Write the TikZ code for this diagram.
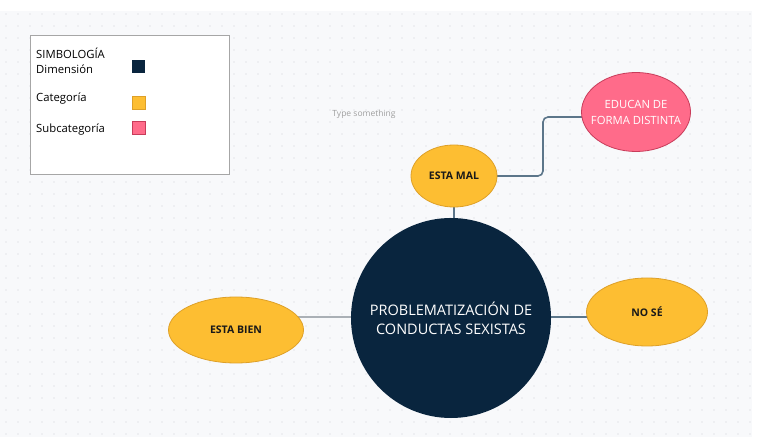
\documentclass[tikz,border=0pt]{standalone}
\usepackage{fontspec}
\setmainfont{Open Sans}
\usetikzlibrary{shapes.geometric}
\pgfdeclarelayer{back}\pgfdeclarelayer{edges}
\pgfsetlayers{back,edges,main}
\definecolor{navy}{RGB}{9,37,62}
\definecolor{yel}{RGB}{253,190,50}
\definecolor{yelb}{RGB}{222,160,40}
\definecolor{pnk}{RGB}{255,107,138}
\definecolor{pnkb}{RGB}{200,60,90}
\definecolor{canvas}{RGB}{248,249,251}
\definecolor{dotc}{RGB}{205,208,213}
\definecolor{linec}{RGB}{92,118,138}
\definecolor{linel}{RGB}{170,176,182}
\tikzset{
  cat/.style={ellipse, draw=yelb, line width=0.8pt, fill=yel, inner sep=0pt, font=\fontsize{10.5}{13}\selectfont\bfseries, text=black!90},
  subc/.style={ellipse, draw=pnkb, line width=0.8pt, fill=pnk, inner sep=0pt, align=center, font=\fontsize{11.3}{16}\selectfont, text=white},
  dim/.style={circle, fill=navy, inner sep=0pt, align=center, minimum size=200pt, font=\fontsize{14.5}{19}\selectfont, text=white},
  leg/.style={anchor=west, inner sep=0pt, font=\fontsize{11.3}{13}\selectfont, text=black},
  sq/.style={rectangle, inner sep=0pt, minimum size=13pt, line width=0.6pt},
  conn/.style={draw=linec, line width=1.6pt},
}
\begin{document}
\begin{tikzpicture}[x=1pt,y=-1pt]
\useasboundingbox (0,0) rectangle (760,443);
\begin{pgfonlayer}{back}
\fill[white] (0,0) rectangle (760,443);
\fill[canvas] (0,11) rectangle (752,437);
\foreach \i in {0,...,62} \foreach \j in {0,...,35} \fill[dotc] (12*\i+6, 14+12*\j) circle (0.7pt);
\end{pgfonlayer}

% legend
\node[draw=gray!70, fill=white, line width=1pt, minimum width=199pt, minimum height=139pt, inner sep=0pt] (legend) at (129.5,105.5) {};
\node[leg] (t1) at (36,53) {SIMBOLOGÍA};
\node[leg] (t2) at (36,69) {Dimensión};
\node[leg] (t3) at (36,99) {Categoría};
\node[leg] (t4) at (36,130) {Subcategoría};
\node[sq, fill=navy] (s1) at (138.5,66.5) {};
\node[sq, fill=yel, draw=yelb] (s2) at (138.5,103) {};
\node[sq, fill=pnk, draw=pnkb] (s3) at (138.5,127.5) {};

\node[text=gray!75, font=\fontsize{8.5}{9}\selectfont, inner sep=0pt] (ts) at (364,114) {Type something};

% nodes
\node[dim] (circ) at (451,318) {PROBLEMATIZACIÓN DE\\CONDUCTAS SEXISTAS};
\node[cat, minimum width=86pt, minimum height=62pt] (mal) at (454,176) {ESTA MAL};
\node[subc, minimum width=109pt, minimum height=79pt] (edu) at (636,112) {\makebox[50pt][c]{EDUCAN DE}\\\makebox[50pt][c]{FORMA DISTINTA}};
\node[cat, minimum width=135pt, minimum height=66pt] (bien) at (236,330) {ESTA BIEN};
\node[cat, minimum width=121pt, minimum height=68pt] (no) at (647,312) {NO SÉ};

% connectors
\begin{pgfonlayer}{edges}
\draw[conn, rounded corners=5pt] (mal.center) -- ([xshift=89pt]mal.center) |- ([yshift=-5pt]edu.center);
\draw[conn] (mal.center) -- (mal.center |- circ.center);
\draw[draw=linel, line width=1.6pt] ([yshift=1pt]circ.center) -- ([yshift=1pt]bien.center |- circ.center);
\draw[conn] ([yshift=1pt]circ.center) -- ([yshift=1pt]no.center |- circ.center);
\end{pgfonlayer}
\end{tikzpicture}
\end{document}
